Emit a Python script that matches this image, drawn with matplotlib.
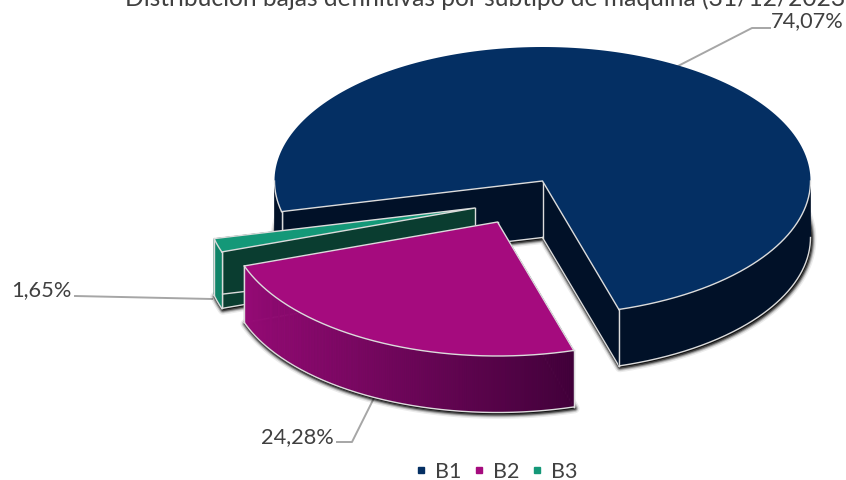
#3D style exploded pie, drawn in pixel coordinates of the picture
import numpy as np
import matplotlib
matplotlib.use('Agg')
import matplotlib.pyplot as plt
from matplotlib.colors import to_rgb
from matplotlib.lines import Line2D

# data
categories = ['B1', 'B2', 'B3']
values = [74.07, 24.28, 1.65]
title = 'Distribución bajas definitivas por subtipo de máquina (31/12/2023'

plt.rcParams['font.family'] = ['Lato', 'DejaVu Sans']

# pie geometry
cx, cy = 542.5, 181
rx, ry = 268, 134
depth = 56.5
start = 193.2  # degrees, slices go clockwise
offsets = [(0, 0), (-45, 41), (-67.5, 27)]

top_colors = ['#042f63', '#a50b7e', '#149878']
wall_colors = ['#011128', '#011128', '#0a3d30']
edge = '#dcdcdc'
text_col = '#404040'
lead_col = '#a6a6a6'

fig = plt.figure(figsize=(8.46, 4.8), dpi=100)
ax = fig.add_axes([0, 0, 1, 1])
ax.set_xlim(0, 846)
ax.set_ylim(480, 0)
ax.axis('off')

# angle limits of every slice
fracs = np.array(values) / sum(values)
ends = start - 360 * np.cumsum(fracs)
starts = np.r_[start, ends[:-1]]


def arc(t0, t1, off, n=200):
    t = np.deg2rad(np.linspace(t0, t1, n))
    return cx + off[0] + rx * np.cos(t), cy + off[1] - ry * np.sin(t)


def wall(x, y, color, z):
    ax.fill(np.r_[x, x[::-1]], np.r_[y, y[::-1] + depth], color=color, lw=0.5, zorder=z)


def shadow(x, y, z):
    for w, a in zip([7, 5, 3.5, 2], [0.08, 0.16, 0.28, 0.5]):
        ax.fill(x + 1, y + 1.5, facecolor='black', edgecolor='black', lw=w, alpha=a,
                joinstyle='round', zorder=z)


def front_runs(i):
    # parts of the rim that look to the viewer, each one unbroken
    # (angle ranges below the horizontal, -180 to 0 and its repeat)
    runs = []
    for lo, hi in [(-540, -360), (-180, 0), (180, 360)]:
        a = max(lo, ends[i])
        b = min(hi, starts[i])
        if b > a:
            runs.append((b, a))
    return runs


def draw_slice(i, z):
    off = offsets[i]
    ox, oy = cx + off[0], cy + off[1]
    x, y = arc(starts[i], ends[i], off)
    px, py = np.r_[ox, x, ox], np.r_[oy, y, oy]

    # shadow of the lower face
    shadow(px, py + depth, z)

    # flat inner walls
    for j in [0, -1]:
        wx, wy = np.array([ox, x[j]]), np.array([oy, y[j]])
        wall(wx, wy, wall_colors[i], z + 0.1)
        ax.plot(wx, wy + depth, color=edge, lw=1, zorder=z + 0.2)
        ax.plot([x[j], x[j]], [y[j], y[j] + depth], color=edge, lw=1, zorder=z + 0.2)
    ax.plot([ox, ox], [oy, oy + depth], color=edge, lw=1, zorder=z + 0.2)

    # outer wall, only the part that looks to the viewer
    runs = front_runs(i)
    for t0, t1 in runs:
        xf, yf = arc(t0, t1, off)
        if i == 1:
            # magenta side gets darker to the right
            c0, c1 = np.array(to_rgb('#960a76')), np.array(to_rgb('#42003a'))
            for k in range(len(xf) - 1):
                f = (xf[k] - xf.min()) / (xf.max() - xf.min())
                wall(xf[k:k + 2], yf[k:k + 2], c0 + (c1 - c0) * f, z + 0.3)
        elif i == 2:
            wall(xf, yf, '#0f8468', z + 0.3)
        else:
            wall(xf, yf, wall_colors[i], z + 0.3)
        ax.plot(xf, yf + depth, color=edge, lw=1, zorder=z + 0.4)

    # top face
    ax.fill(px, py, color=top_colors[i], lw=0, zorder=z + 0.5)
    for t0, t1 in runs:
        xf, yf = arc(t0, t1, off)
        ax.plot(xf, yf, color=edge, lw=1, zorder=z + 0.6)
    ax.plot([x[0], ox, x[-1]], [y[0], oy, y[-1]], color=edge, lw=1, zorder=z + 0.6)
    for j in [0, -1]:
        ax.plot([x[j], x[j]], [y[j], y[j] + depth], color=edge, lw=1, zorder=z + 0.6)


# blue, then green, then magenta in front
draw_slice(0, 1)
draw_slice(2, 2)
draw_slice(1, 3)

# title, cut by the top of the picture like the original
ax.text(845, 6.5, title, ha='right', va='baseline', fontsize=17.7, color=text_col, zorder=10)

# value labels with leader lines
label_pos = [(807, 21), (297, 437), (41, 290)]
leaders = [([678, 752, 770], [66, 28, 28]),
           ([374, 352, 337], [398, 442, 442]),
           ([212, 75], [299, 296])]
for v, (tx, ty), (lx, ly) in zip(values, label_pos, leaders):
    txt = f'{v:.2f}'.replace('.', ',') + '%'
    ax.text(tx, ty, txt, ha='center', va='center', fontsize=15.7, color=text_col, zorder=10)
    ax.plot(lx, ly, color=lead_col, lw=1.4, zorder=0.5)

# legend
handles = [Line2D([], [], ls='', marker='s', ms=5, color=c) for c in top_colors]
ax.legend(handles, categories, loc='center', bbox_to_anchor=(496, 472),
          bbox_transform=ax.transData, ncols=3, frameon=False, fontsize=15.5,
          labelcolor=text_col, handlelength=0.6, handletextpad=0.35, columnspacing=0.5,
          borderpad=0, borderaxespad=0)

fig.savefig('out.png', dpi=100)
